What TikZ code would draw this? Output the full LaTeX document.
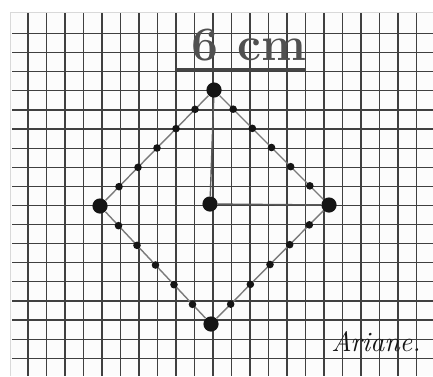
\documentclass[tikz,border=0pt]{standalone}
\usepackage{tikz}
\usetikzlibrary{calc,positioning}
\definecolor{gridc}{HTML}{404040}
\definecolor{pencilc}{HTML}{7A7A7A}
\definecolor{inkc}{HTML}{151515}
\definecolor{paperc}{HTML}{FCFCFC}
\tikzset{
  gridln/.style={gridc,line width=0.6pt},
  side/.style={pencilc,line width=0.7pt},
  bigdot/.style={circle,fill=inkc,minimum size=7.6pt,inner sep=0pt},
  smalldot/.style={circle,fill=inkc,minimum size=3.8pt,inner sep=0pt},
  ttl/.style={font=\fontsize{24}{26}\selectfont\bfseries,text=inkc!75,inner sep=0pt}
}
\begin{document}
\begin{tikzpicture}[x=0.5pt,y=-0.5pt]
\useasboundingbox (0,0) rectangle (433,376);
\fill[white] (0,0) rectangle (433,376);
\fill[paperc] (10,12) rectangle (433,376);
\draw[black!15] (10,376) -- (10,12) -- (433,12);
% squared paper
\foreach \k in {0,...,21}{\draw[gridln] ({28+18.5*\k},13) -- ({28+18.5*\k},376);}
\foreach \k in {0,...,17}{\draw[gridln] (12,{33.5+19.1*\k}) -- (433,{33.5+19.1*\k});}
% square and its centre
\node[bigdot] (T) at (214,90) {};
\node[bigdot] (L) at (100,206) {};
\node[bigdot] (B) at (211,324) {};
\node[bigdot] (R) at (329,205) {};
\node[bigdot] (O) at (210,204) {};
\draw[side] (T) -- (R) -- (B) -- (L) -- (T);
\draw[side,inkc!70] (T) -- (O) -- (R);
\foreach \p/\q in {T/L,T/R,B/L,B/R}{
  \foreach \i in {1,...,5}{\node[smalldot] at ($(\p)!\i/6!(\q)$) {};}
}
% title and name
\node[ttl] (lbl) at (249,45) {6 cm};
\draw[inkc!80,line width=1.2pt] ($(lbl.south west)+(-16,8)$) -- ($(lbl.south east)+(0,8)$);
\node[font=\fontsize{14}{16}\selectfont\itshape,text=inkc] (sig) at (376,342) {Ariane.};
\end{tikzpicture}
\end{document}
